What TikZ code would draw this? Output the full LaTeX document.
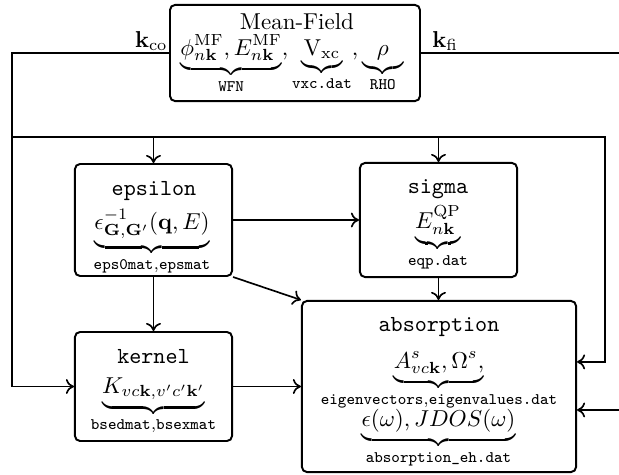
\documentclass[tikz,border=0pt]{standalone}
\usepackage{amsmath}
\usetikzlibrary{arrows.meta,calc}
\begin{document}
\tikzset{
  box/.style={draw, line width=0.85pt, rounded corners=2.2pt, inner sep=0pt},
  txt/.style={inner sep=0pt, anchor=base},
  conn/.style={line width=0.72pt, -{To[length=3.5pt,width=6.5pt]}},
  plain/.style={line width=0.72pt},
  klabel/.style={inner sep=0pt},
}
\begin{tikzpicture}[x=0.4348pt,y=-0.4348pt]
\useasboundingbox (0,0) rectangle (619,475);
% boxes
\node[box, minimum width=108.7pt, minimum height=41.8pt] (mf) at (295,53) {};
\node[box, minimum width=68.3pt, minimum height=48.7pt] (eps) at (153.5,220) {};
\node[box, minimum width=68.3pt, minimum height=49.6pt] (sig) at (438.5,220) {};
\node[box, minimum width=68.3pt, minimum height=47.4pt] (ker) at (153.5,386.5) {};
\node[box, minimum width=119.2pt, minimum height=74.4pt] (abs) at (439,386.5) {};
% texts
\node[txt] (mfT) at (297,29) {Mean-Field};
\node[txt] (mfM) at (292,55)
  {$\underbrace{\phi^{\mathrm{MF}}_{n\mathbf{k}}, E^{\mathrm{MF}}_{n\mathbf{k}}}_{\texttt{WFN}},
    \underbrace{\mathrm{V}_{\mathrm{xc}}}_{\texttt{vxc.dat}},
    \underbrace{\rho}_{\texttt{RHO}}$};
\node[txt] (epsT) at (154,195) {\texttt{epsilon}};
\node[txt] (epsM) at (152,229)
  {$\underbrace{\epsilon^{-1}_{\mathbf{G},\mathbf{G}'}(\mathbf{q},E)}_{\texttt{eps0mat},\texttt{epsmat}}$};
\node[txt] (sigT) at (438,193) {\texttt{sigma}};
\node[txt] (sigM) at (438,228)
  {$\underbrace{E^{\mathrm{QP}}_{n\mathbf{k}}}_{\texttt{eqp.dat}}$};
\node[txt] (kerT) at (153.5,363) {\texttt{kernel}};
\node[txt] (kerM) at (153.5,393)
  {$\underbrace{K_{vc\mathbf{k},v'c'\mathbf{k}'}}_{\texttt{bsedmat},\texttt{bsexmat}}$};
\node[txt] (absT) at (439,331) {\texttt{absorption}};
\node[txt] (absM1) at (439,368)
  {$\underbrace{A^s_{vc\mathbf{k}},\Omega^s,}_{\texttt{eigenvectors},\texttt{eigenvalues.dat}}$};
\node[txt] (absM2) at (438.5,426)
  {$\underbrace{\epsilon(\omega),JDOS(\omega)}_{\texttt{absorption\_eh.dat}}$};
% labels
\node[klabel, anchor=base east] (kco) at (168,47) {$\mathbf{k}_{\mathrm{co}}$};
\node[klabel, anchor=base west] (kfi) at (432,47) {$\mathbf{k}_{\mathrm{fi}}$};
% coordinates
\coordinate (lx) at (12,137);
\coordinate (rx) at (605,137);
\coordinate (fiout) at (619,53);
\coordinate (fiin) at (619,410);
\coordinate (absR1) at ([yshift=10.7pt]abs.east);
\coordinate (absR2) at ([yshift=-10.2pt]abs.east);
% connectors
\draw[conn] (mf.west) -| (lx) |- (ker.west);
\draw[conn] (lx) -- (rx) |- (absR1);
\draw[conn] (eps.north |- lx) -- (eps.north);
\draw[conn] (sig.north |- lx) -- (sig.north);
\draw[conn] (eps.east) -- (sig.west);
\draw[conn] (eps.south) -- (ker.north);
\draw[conn] (eps.south east) -- (abs.north west);
\draw[conn] (sig.south) -- (sig.south |- abs.north);
\draw[conn] (ker.east) -- (abs.west);
\draw[plain] (mf.east) -- (fiout);
\draw[conn] (fiin) -- (absR2);
\end{tikzpicture}
\end{document}
